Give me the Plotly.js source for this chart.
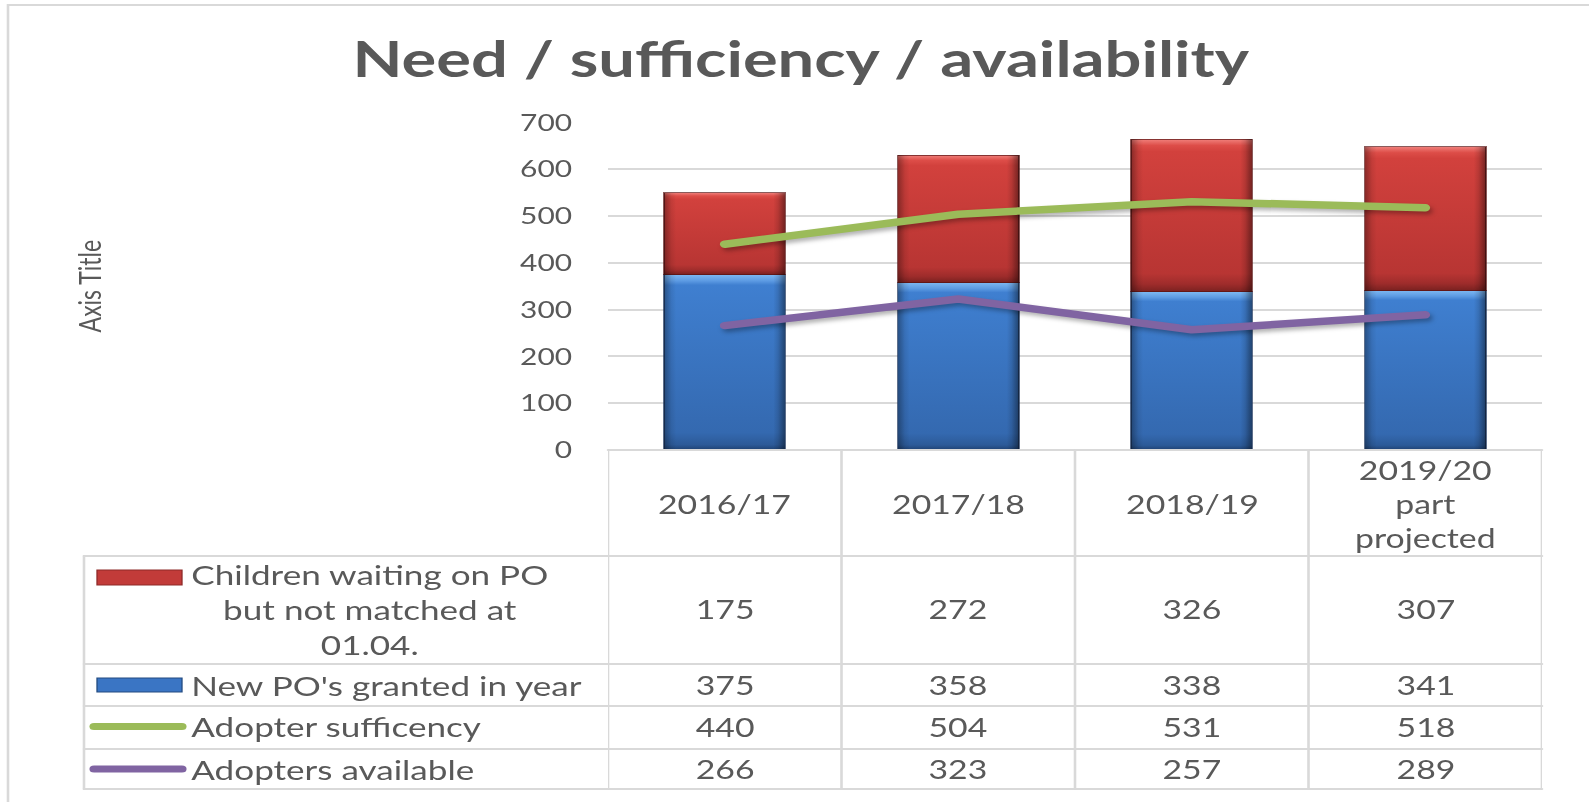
<!DOCTYPE html>
<html>
<head>
<meta charset="utf-8">
<script src="https://cdn.plot.ly/plotly-3.0.1.min.js"></script>
<style>
  html, body { margin: 0; padding: 0; background: #ffffff; overflow: hidden; }
  #wrap { width: 1589px; height: 802px; overflow: hidden; position: relative; }
  #chart { position: absolute; left: 0; top: 0; transform-origin: 0 0; }
</style>
</head>
<body>
<div id="wrap"><div id="chart"></div></div>
<script>
// ---------------- data ----------------
const categories = ['2016/17', '2017/18', '2018/19', '2019/20 part projected'];
const categoryLabels = ['2016/17', '2017/18', '2018/19', '2019/20<br>part<br>projected'];
const waitingNotMatched = [175, 272, 326, 307];
const newPOsGranted = [375, 358, 338, 341];
const adopterSufficiency = [440, 504, 531, 518];
const adoptersAvailable = [266, 323, 257, 289];
const seriesNames = [
  'Children waiting on PO<br>but not matched at<br>01.04.',
  "New PO's granted in year",
  'Adopter sufficency',
  'Adopters available'
];
const yTicks = [0, 100, 200, 300, 400, 500, 600, 700];
const chartTitle = 'Need / sufficiency / availability';
const axisTitle = 'Axis Title';

// ---------------- geometry helpers ----------------
const S = 1.3;                       // horizontal stretch of the picture
const FULLW = 1589, FULLH = 802;
const W = Math.round(FULLW / S);
const fx = px => px / FULLW;
const fy = py => 1 - py / FULLH;

const FONT = 'Lato, "Open Sans", sans-serif';
const GREY = '#595959';
const LINEC = '#D9D9D9';

const colBlue = '#3A75C4', colRed = '#C23B39', colGreen = '#9BBB59', colPurple = '#8064A2';

// ---------------- traces ----------------
const traces = [
  { type: 'bar', x: categories, y: newPOsGranted, name: seriesNames[1],
    marker: { color: colBlue, line: { color: 'rgba(25,50,90,0.7)', width: 1 } } },
  { type: 'bar', x: categories, y: waitingNotMatched, name: seriesNames[0],
    marker: { color: colRed, line: { color: 'rgba(90,20,20,0.7)', width: 1 } } },
  { type: 'scatter', mode: 'lines', x: categories, y: adopterSufficiency, name: seriesNames[2],
    line: { color: colGreen, width: 7.5 } },
  { type: 'scatter', mode: 'lines', x: categories, y: adoptersAvailable, name: seriesNames[3],
    line: { color: colPurple, width: 7.5 } }
];

// ---------------- table geometry (full-size pixels) ----------------
const plotLeft = 608, plotRight = 1542, plotBottom = 450, plotTop = 122.6;
const tableLeft = 84;
const rowEdges = [556, 664, 706, 749, 789];
const headerY = 503.7;
const rowCentersY = [609, 685, 726.6, 769];

const shapes = [];
// outer chart border
shapes.push({ type: 'rect', xref: 'paper', yref: 'paper', x0: fx(8), x1: fx(1600), y0: fy(5), y1: fy(810),
  line: { color: LINEC, width: 2 }, fillcolor: 'rgba(0,0,0,0)' });
// table top line (category axis line)
shapes.push({ type: 'line', xref: 'paper', yref: 'paper', x0: fx(plotLeft), x1: fx(plotRight), y0: fy(plotBottom), y1: fy(plotBottom),
  line: { color: LINEC, width: 2 } });
// horizontal table lines
rowEdges.forEach(y => shapes.push({ type: 'line', xref: 'paper', yref: 'paper', x0: fx(tableLeft), x1: fx(plotRight), y0: fy(y), y1: fy(y),
  line: { color: LINEC, width: 2 } }));
// vertical lines at category boundaries
for (let i = 0; i <= categories.length; i++) {
  shapes.push({ type: 'line', xref: 'x', yref: 'paper', x0: i - 0.5, x1: i - 0.5, y0: fy(plotBottom), y1: fy(rowEdges[rowEdges.length - 1]),
    line: { color: LINEC, width: 2 } });
}
// left border of series label column
shapes.push({ type: 'line', xref: 'paper', yref: 'paper', x0: fx(tableLeft), x1: fx(tableLeft), y0: fy(rowEdges[0]), y1: fy(rowEdges[rowEdges.length - 1]),
  line: { color: LINEC, width: 2 } });
// legend keys
shapes.push({ type: 'rect', xref: 'paper', yref: 'paper', x0: fx(97), x1: fx(182), y0: fy(570), y1: fy(585),
  fillcolor: colRed, line: { color: '#8E2A28', width: 1 } });
shapes.push({ type: 'rect', xref: 'paper', yref: 'paper', x0: fx(97), x1: fx(182), y0: fy(678), y1: fy(692),
  fillcolor: colBlue, line: { color: '#234B80', width: 1 } });
shapes.push({ type: 'line', xref: 'paper', yref: 'paper', x0: fx(94), x1: fx(182), y0: fy(726.6), y1: fy(726.6),
  line: { color: colGreen, width: 7 } });
shapes.push({ type: 'line', xref: 'paper', yref: 'paper', x0: fx(94), x1: fx(182), y0: fy(769), y1: fy(769),
  line: { color: colPurple, width: 7 } });

// ---------------- annotations ----------------
const annotations = [];
annotations.push({ text: chartTitle, xref: 'paper', yref: 'paper', x: fx(801), y: fy(58), xanchor: 'center', yanchor: 'middle',
  showarrow: false, font: { family: FONT, size: 50, color: GREY, weight: 700 } });
annotations.push({ text: axisTitle, xref: 'paper', yref: 'paper', x: fx(89), y: fy(286), xanchor: 'center', yanchor: 'middle',
  textangle: -90, showarrow: false, font: { family: FONT, size: 23, color: GREY } });
// header row: categories
categories.forEach((c, i) => annotations.push({ text: categoryLabels[i], xref: 'x', yref: 'paper', x: c, y: fy(headerY),
  xanchor: 'center', yanchor: 'middle', align: 'center', showarrow: false, font: { family: FONT, size: 26, color: GREY } }));
// series labels
[0, 1, 2, 3].forEach((k, r) => annotations.push({ text: seriesNames[k], xref: 'paper', yref: 'paper', x: fx(188), y: fy(rowCentersY[r]),
  xanchor: 'left', yanchor: 'middle', align: 'center', showarrow: false, font: { family: FONT, size: 27, color: GREY } }));
// values
const rowsValues = [waitingNotMatched, newPOsGranted, adopterSufficiency, adoptersAvailable];
rowsValues.forEach((vals, r) => vals.forEach((v, i) => annotations.push({ text: String(v), xref: 'x', yref: 'paper', x: categories[i],
  y: fy(rowCentersY[r]), xanchor: 'center', yanchor: 'middle', showarrow: false, font: { family: FONT, size: 26, color: GREY } })));

// ---------------- layout ----------------
const layout = {
  width: W, height: FULLH, autosize: false,
  margin: { l: 0, r: 0, t: 0, b: 0, pad: 0 },
  paper_bgcolor: '#ffffff', plot_bgcolor: 'rgba(0,0,0,0)',
  barmode: 'stack', bargap: 0.48,
  showlegend: false,
  font: { family: FONT, color: GREY },
  xaxis: { domain: [fx(plotLeft), fx(plotRight)], type: 'category', range: [-0.5, 3.5],
    showticklabels: false, showgrid: false, zeroline: false, showline: false, ticks: '', fixedrange: true },
  yaxis: { domain: [fy(plotBottom), fy(plotTop)], range: [0, 700], tickvals: yTicks,
    showgrid: true, gridcolor: LINEC, gridwidth: 2, zeroline: false, showline: false,
    ticks: 'outside', ticklen: Math.round(28 / S), tickcolor: 'rgba(0,0,0,0)',
    tickfont: { family: FONT, size: 23, color: GREY }, fixedrange: true },
  shapes: shapes,
  annotations: annotations
};

const gd = document.getElementById('chart');
gd.style.width = W + 'px';
gd.style.height = FULLH + 'px';
gd.style.transform = 'scaleX(' + (FULLW / W) + ')';

Plotly.newPlot(gd, traces, layout, { staticPlot: true, displayModeBar: false }).then(() => {
  const NS = 'http://www.w3.org/2000/svg';
  const svg = gd.querySelector('svg.main-svg');
  let defs = svg.querySelector('defs');
  if (!defs) { defs = document.createElementNS(NS, 'defs'); svg.insertBefore(defs, svg.firstChild); }
  function grad(id, vertical, stops) {
    const g = document.createElementNS(NS, 'linearGradient');
    g.setAttribute('id', id);
    g.setAttribute('x1', '0'); g.setAttribute('y1', '0');
    g.setAttribute('x2', vertical ? '0' : '1'); g.setAttribute('y2', vertical ? '1' : '0');
    stops.forEach(s => {
      const st = document.createElementNS(NS, 'stop');
      st.setAttribute('offset', s[0]);
      st.setAttribute('stop-color', s[1]);
      st.setAttribute('stop-opacity', s[2] === undefined ? 1 : s[2]);
      g.appendChild(st);
    });
    defs.appendChild(g);
  }
  grad('gBlue', true, [[0, '#7DB8F2'], [0.035, '#5D9BE3'], [0.06, '#3F7FD0'], [0.9, '#3469B0'], [0.97, '#2C5A98'], [1, '#1F4172']]);
  grad('gRed', true, [[0, '#F07F7A'], [0.04, '#DD4D48'], [0.08, '#D2413D'], [0.88, '#B83533'], [0.95, '#9E2C2B'], [1, '#7A2120']]);
  grad('gEdge', false, [[0, '#000', 0.35], [0.06, '#000', 0.08], [0.1, '#000', 0], [0.9, '#000', 0], [0.94, '#000', 0.12], [1, '#000', 0.45]]);
  const barTraces = gd.querySelectorAll('.barlayer .trace');
  const fills = ['url(#gBlue)', 'url(#gRed)'];
  barTraces.forEach((t, i) => {
    t.querySelectorAll('.point path').forEach(p => {
      p.style.fill = fills[i] || p.style.fill;
      const c = p.cloneNode(true);
      c.style.fill = 'url(#gEdge)';
      c.style.stroke = 'none';
      p.parentNode.appendChild(c);
    });
  });
  gd.querySelectorAll('.scatterlayer .js-line').forEach(p => {
    p.style.strokeLinecap = 'round';
    p.style.strokeLinejoin = 'round';
    p.style.filter = 'drop-shadow(2px 3px 2px rgba(0,0,0,0.3))';
  });
  gd.querySelectorAll('.shapelayer path').forEach(p => { p.style.strokeLinecap = 'round'; });
});
</script>
</body>
</html>
